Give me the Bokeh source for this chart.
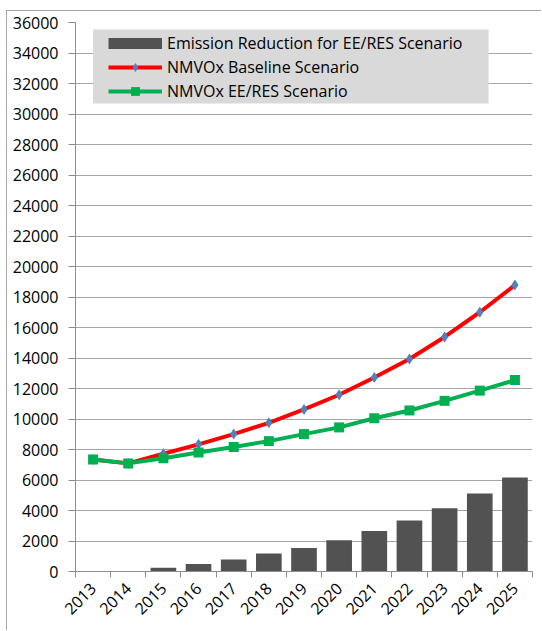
from bokeh.plotting import figure
from bokeh.models import (Range1d, FixedTicker, Legend, LegendItem, BoxAnnotation)
from bokeh.embed import file_html
from bokeh.resources import INLINE

# NMVOx emissions by year
years = ["2013", "2014", "2015", "2016", "2017", "2018", "2019",
         "2020", "2021", "2022", "2023", "2024", "2025"]
baseline = [7350, 7090, 7720, 8340, 9010, 9750, 10630, 11590, 12720, 13930, 15380, 17000, 18780]
ee_res = [7350, 7090, 7420, 7800, 8170, 8550, 9010, 9450, 10050, 10560, 11190, 11860, 12550]
reduction = [0, 0, 240, 500, 790, 1180, 1540, 2050, 2650, 3340, 4150, 5110, 6170]
y_ticks = list(range(0, 36001, 2000))

xs = list(range(len(years)))
FONT = "Open Sans"
BAR_COLOR = "#525252"

p = figure(width=535, height=620, output_backend="svg", toolbar_location=None,
           x_range=Range1d(-0.5, len(years) - 0.5), y_range=Range1d(0, 36000),
           min_border_left=68, min_border_right=10, min_border_top=11, min_border_bottom=60,
           background_fill_color="white", border_fill_color="white",
           styles={"margin-left": "6px", "margin-top": "10px",
                   "border-left": "1px solid #a6a6a6", "border-top": "1px solid #a6a6a6"})
p.outline_line_color = None

# grid
p.xgrid.visible = False
p.ygrid.ticker = FixedTicker(ticks=y_ticks)
p.ygrid.grid_line_color = "#a6a6a6"
p.ygrid.grid_line_width = 1.2

# y axis
p.yaxis.ticker = FixedTicker(ticks=y_ticks)
p.yaxis.axis_line_color = "#8c8c8c"
p.yaxis.major_tick_line_color = "#8c8c8c"
p.yaxis.major_tick_out = 7
p.yaxis.major_tick_in = 0
p.yaxis.minor_tick_line_color = None
p.yaxis.major_label_standoff = 10
p.yaxis.major_label_text_font = FONT
p.yaxis.major_label_text_font_size = "16px"
p.yaxis.major_label_text_color = "black"

# x axis: labels at year centres, tick marks between years
p.xaxis.ticker = FixedTicker(ticks=xs, minor_ticks=[i - 0.5 for i in range(len(years) + 1)])
p.xaxis.major_label_overrides = {i: y for i, y in enumerate(years)}
p.xaxis.axis_line_color = "#8c8c8c"
p.xaxis.major_tick_out = 0
p.xaxis.major_tick_in = 0
p.xaxis.minor_tick_out = 6
p.xaxis.minor_tick_in = 0
p.xaxis.minor_tick_line_color = "#8c8c8c"
p.xaxis.major_label_orientation = 0.785
p.xaxis.major_label_standoff = 8
p.xaxis.major_label_text_font = FONT
p.xaxis.major_label_text_font_size = "16px"
p.xaxis.major_label_text_color = "black"

bars = p.vbar(x=xs, top=reduction, width=0.73, fill_color=BAR_COLOR, line_color=None)
base_line = p.line(xs, baseline, line_color="#ff0000", line_width=4)
base_pts = p.scatter(xs, baseline, marker="diamond", size=11, fill_color="#4f81bd", line_color=None)
ee_line = p.line(xs, ee_res, line_color="#00b050", line_width=4)
ee_pts = p.scatter(xs, ee_res, marker="square", size=10, fill_color="#00b050", line_color=None)

# flat swatch used for the bar series in the legend (no visible points)
nan = float("nan")
bar_key = p.line(x=[nan], y=[nan], line_color=BAR_COLOR, line_width=11)

# legend panel
p.add_layout(BoxAnnotation(left=0.0, right=11.25, top=35540, bottom=30690,
                           fill_color="#d9d9d9", fill_alpha=1.0, line_color=None))

legend = Legend(items=[
    LegendItem(label="Emission Reduction for EE/RES Scenario", renderers=[bar_key]),
    LegendItem(label="NMVOx Baseline Scenario", renderers=[base_line, base_pts]),
    LegendItem(label="NMVOx EE/RES Scenario", renderers=[ee_line, ee_pts]),
], location=(33, 469), padding=0, margin=0, spacing=2,
    glyph_width=54, glyph_height=22, label_height=20, label_standoff=5,
    label_text_font=FONT, label_text_font_size="16px", label_text_color="black",
    background_fill_alpha=0, border_line_alpha=0)
p.add_layout(legend)

open("out.html", "w").write(file_html(p, INLINE))
